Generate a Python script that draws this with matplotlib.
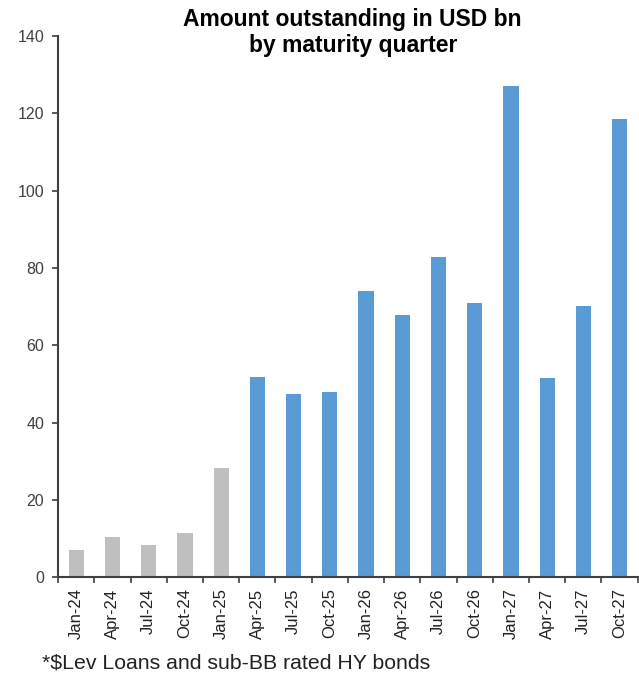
import matplotlib
matplotlib.use('Agg')
import numpy as np
from matplotlib import pyplot as plt

plt.rcParams['font.family'] = ['Liberation Sans', 'DejaVu Sans']

quarters = ['Jan-24', 'Apr-24', 'Jul-24', 'Oct-24', 'Jan-25', 'Apr-25', 'Jul-25', 'Oct-25',
            'Jan-26', 'Apr-26', 'Jul-26', 'Oct-26', 'Jan-27', 'Apr-27', 'Jul-27', 'Oct-27']
amounts = [7.0, 10.5, 8.3, 11.4, 28.3, 51.8, 47.5, 48.0,
           73.9, 67.9, 82.7, 70.8, 127.1, 51.5, 70.1, 118.4]
n_past = 5  # first quarters shown in grey

grey = '#BFBFBF'
blue = '#5B9BD5'
axis_col = '#404040'

fig = plt.figure(figsize=(6.39, 6.76), dpi=100)
ax = fig.add_axes([0.091, 0.146, 0.907, 0.801])

x = np.arange(len(quarters))
colors = [grey if i < n_past else blue for i in range(len(quarters))]
ax.bar(x, amounts, width=0.42, color=colors, zorder=2)

ax.set_xlim(-0.5, len(quarters) - 0.5)
ax.set_ylim(0, 140)
ax.set_yticks(np.arange(0, 141, 20))

ax.set_xticks(x)
ax.set_xticklabels(quarters, rotation=90, fontsize=12, color='#222222')
ax.set_xticks(np.arange(-0.5, len(quarters), 1), minor=True)
ax.tick_params(axis='x', which='major', length=0, pad=8)
ax.tick_params(axis='x', which='minor', length=4, width=1.2, color=axis_col)
ax.tick_params(axis='y', length=4, width=1.2, color=axis_col, labelsize=11.5,
               labelcolor='#404040', pad=6)

for side in ['top', 'right']:
    ax.spines[side].set_visible(False)
for side in ['left', 'bottom']:
    ax.spines[side].set_color(axis_col)
    ax.spines[side].set_linewidth(1.5)

fig.text(0.552, 0.988, 'Amount outstanding in USD bn\nby maturity quarter',
         ha='center', va='top', fontsize=16.5, fontweight='bold', linespacing=1.15)
fig.text(0.066, 0.005, '*$Lev Loans and sub-BB rated HY bonds', ha='left', va='bottom',
         fontsize=15.3, color='#222222')

fig.savefig('out.png', dpi=100)
